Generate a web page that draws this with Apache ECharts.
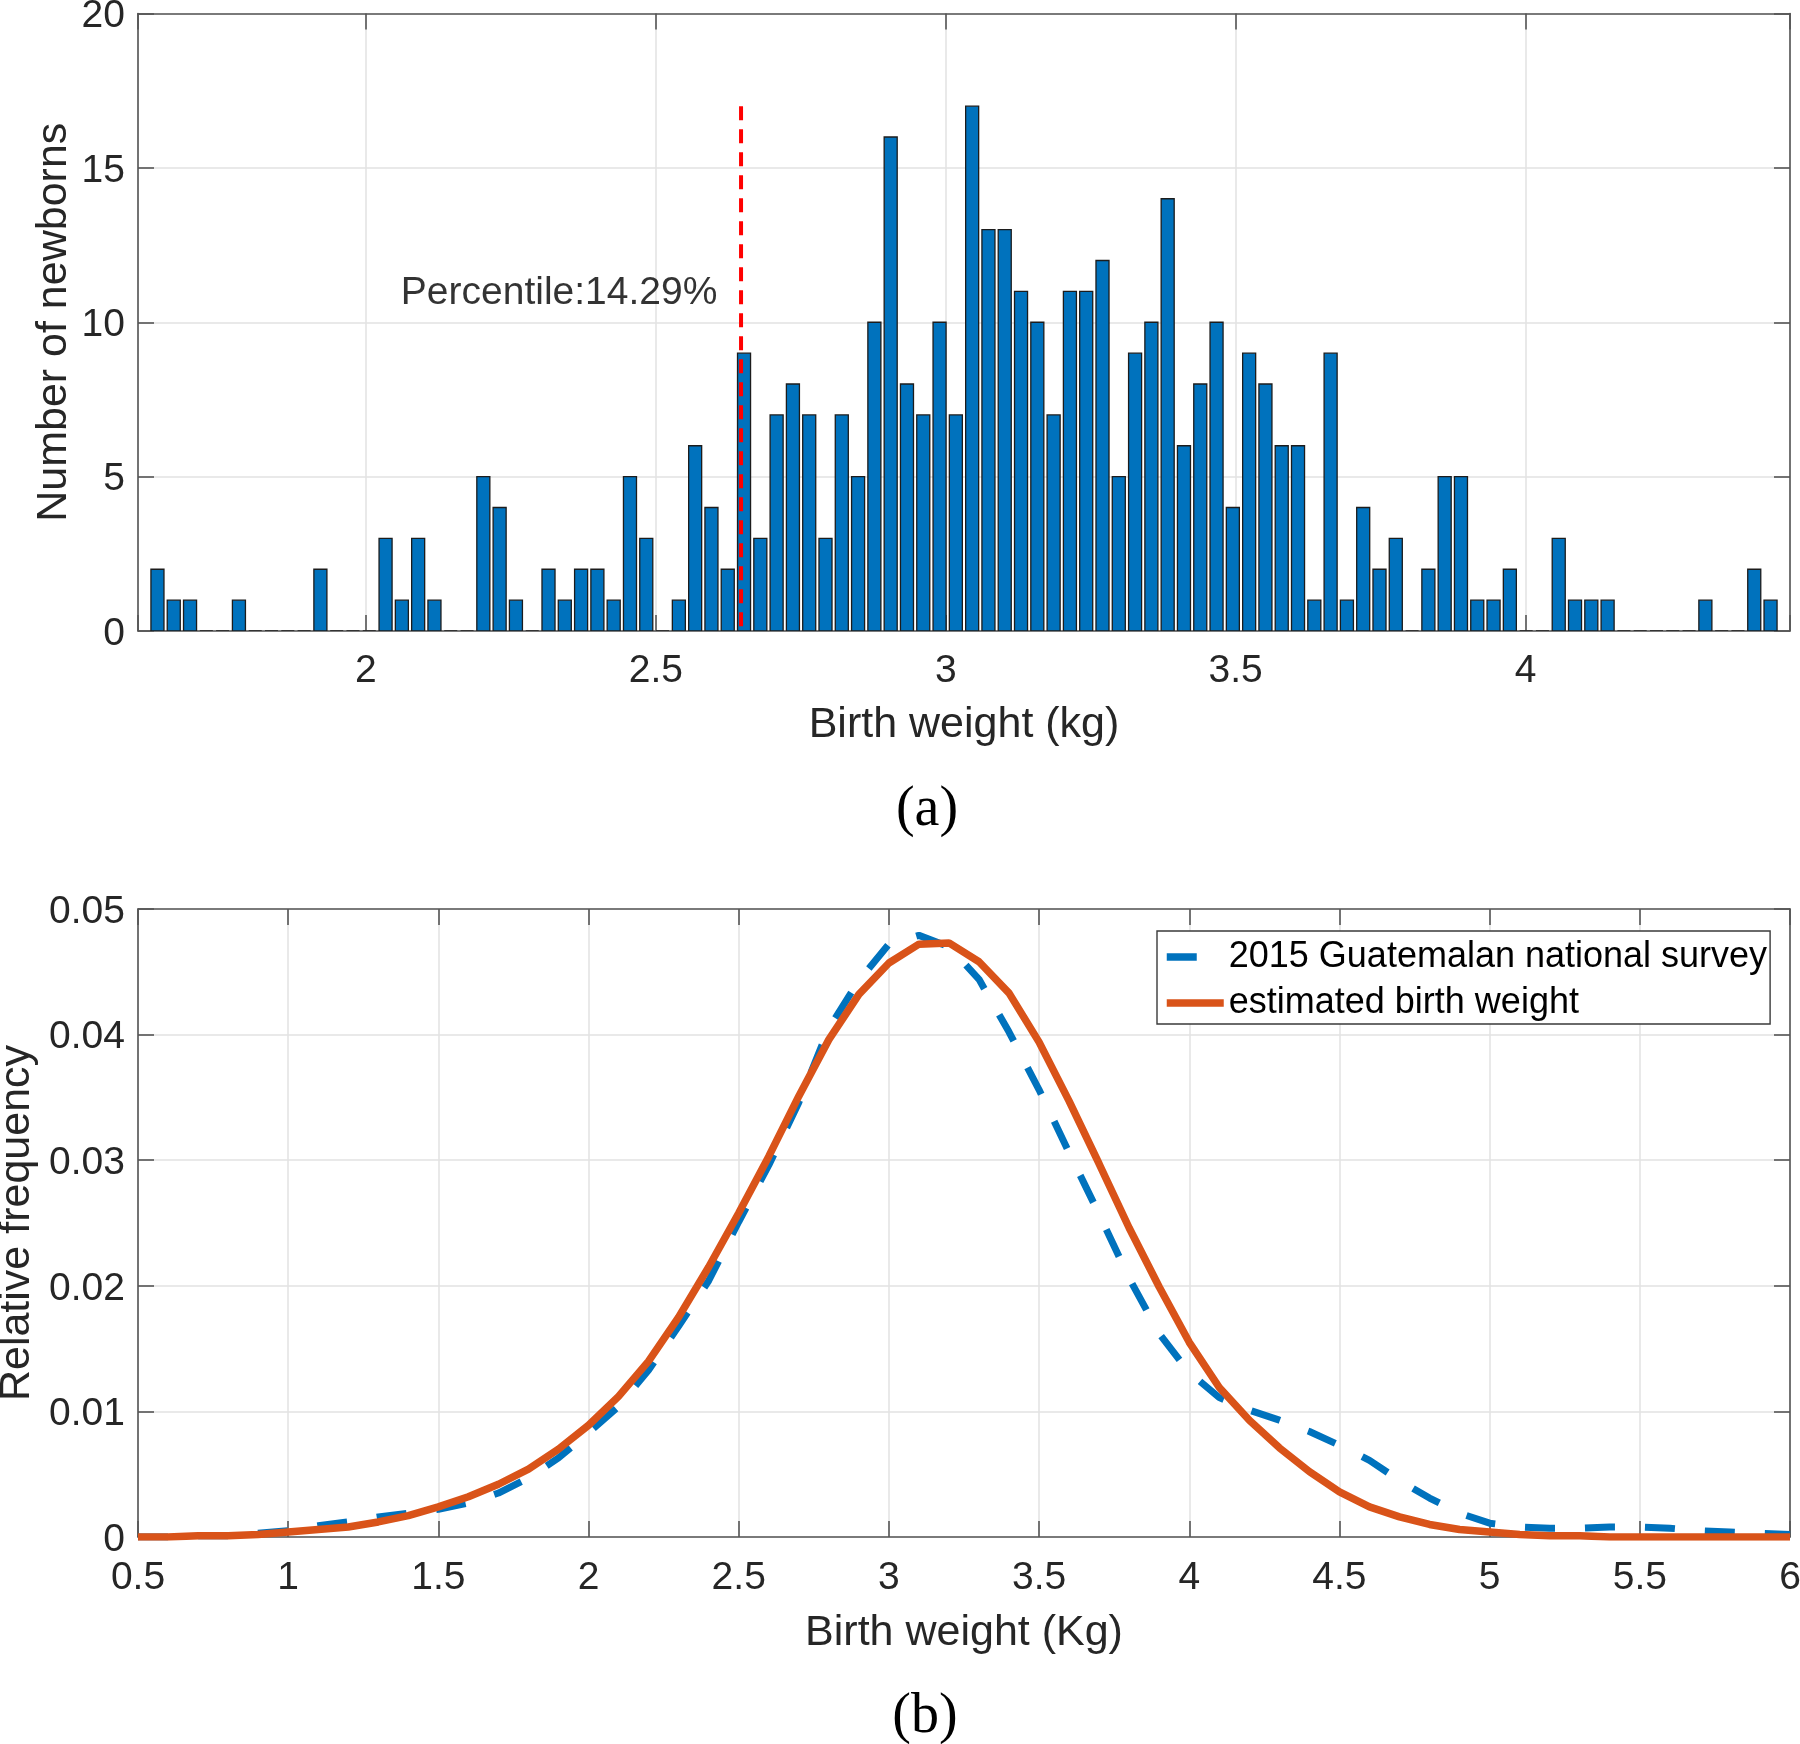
<!DOCTYPE html>
<html>
<head>
<meta charset="utf-8">
<script src="https://cdn.jsdelivr.net/npm/echarts@6/dist/echarts.min.js"></script>
<style>
html, body { margin: 0; padding: 0; background: #ffffff; }
#chart { width: 1800px; height: 1744px; }
</style>
</head>
<body>
<div id="chart"></div>
<script>
// ---------------- (a) histogram of birth weights ----------------
const binStart = 1.6265;      // left edge of first bin (kg)
const binWidth = 0.0281;      // bin width (kg)
const newbornCounts = [
  2, 1, 1, 0, 0, 1, 0, 0, 0, 0,
  2, 0, 0, 0, 3, 1, 3, 1, 0, 0,
  5, 4, 1, 0, 2, 1, 2, 2, 1, 5,
  3, 0, 1, 6, 4, 2, 9, 3, 7, 8,
  7, 3, 7, 5, 10, 16, 8, 7, 10, 7,
  17, 13, 13, 11, 10, 7, 11, 11, 12, 5,
  9, 10, 14, 6, 8, 10, 4, 9, 8, 6,
  6, 1, 9, 1, 4, 2, 3, 0, 2, 5,
  5, 1, 1, 2, 0, 0, 3, 1, 1, 1,
  0, 0, 0, 0, 0, 1, 0, 0, 2, 1
];
const histXRange = [1.607, 4.456];
const histYRange = [0, 20];
const percentileX = 2.647;
const percentileTop = 17;
const percentileText = 'Percentile:14.29%';
const percentileTextAt = [2.607, 10.95];

// ---------------- (b) relative frequency curves ----------------
const weightKg = [
  0.5, 0.6, 0.7, 0.8, 0.9, 1.0, 1.1, 1.2, 1.3, 1.4,
  1.5, 1.6, 1.7, 1.8, 1.9, 2.0, 2.1, 2.2, 2.3, 2.4,
  2.5, 2.6, 2.7, 2.8, 2.9, 3.0, 3.1, 3.2, 3.3, 3.4,
  3.5, 3.6, 3.7, 3.8, 3.9, 4.0, 4.1, 4.2, 4.3, 4.4,
  4.5, 4.6, 4.7, 4.8, 4.9, 5.0, 5.1, 5.2, 5.3, 5.4,
  5.5, 5.6, 5.7, 5.8, 5.9, 6.0
];
const surveyFreq = [
  0.0000, 0.0000, 0.0001, 0.0001, 0.0003, 0.0005, 0.0009, 0.0012, 0.0016, 0.0019,
  0.0022, 0.0027, 0.0035, 0.0047, 0.0063, 0.0083, 0.0104, 0.0133, 0.0168, 0.0204,
  0.0251, 0.0296, 0.0346, 0.0405, 0.0443, 0.0472, 0.0479, 0.0470, 0.0444, 0.0402,
  0.0356, 0.0306, 0.0257, 0.0206, 0.0162, 0.0131, 0.0111, 0.0101, 0.0093, 0.0084,
  0.0073, 0.0061, 0.0045, 0.0031, 0.0019, 0.0011, 0.0008, 0.0007, 0.0007, 0.0008,
  0.0008, 0.0007, 0.0005, 0.0004, 0.0003, 0.0002
];
const estimatedFreq = [
  0.0000, 0.0000, 0.0001, 0.0001, 0.0002, 0.0004, 0.0006, 0.0008, 0.0012, 0.0017,
  0.0024, 0.0032, 0.0042, 0.0054, 0.0070, 0.0089, 0.0112, 0.0140, 0.0175, 0.0215,
  0.0258, 0.0303, 0.0351, 0.0396, 0.0432, 0.0457, 0.0472, 0.0473, 0.0458, 0.0433,
  0.0394, 0.0347, 0.0297, 0.0246, 0.0199, 0.0155, 0.0119, 0.0093, 0.0071, 0.0052,
  0.0036, 0.0024, 0.0016, 0.0010, 0.0006, 0.0004, 0.0002, 0.0001, 0.0001, 0.0000,
  0.0000, 0.0000, 0.0000, 0.0000, 0.0000, 0.0000
];
const seriesNames = ['2015 Guatemalan national survey', 'estimated birth weight'];
const curveXRange = [0.5, 6];
const curveYRange = [0, 0.05];

// ---------------- styling ----------------
const FONT = '"Liberation Sans", Arial, Helvetica, sans-serif';
const SERIF = '"Liberation Serif", "Times New Roman", serif';
const TEXT = '#262626';
const AXIS = '#555555';
const GRID = '#e2e2e2';
const BLUE = '#0072BD';
const ORANGE = '#D95319';

const tickLabel = { fontSize: 39, color: TEXT, fontFamily: FONT };
const yTickLabel = { fontSize: 39, color: TEXT, fontFamily: FONT, verticalAlign: 'top', lineHeight: 6 };
const nameStyle = { fontSize: 43, color: TEXT, fontFamily: FONT };
const axisLine = { show: true, onZero: false, lineStyle: { color: AXIS, width: 1.6 } };
const axisTick = { show: true, inside: true, length: 16, lineStyle: { color: AXIS, width: 1.6 } };
const splitLine = { show: true, lineStyle: { color: GRID, width: 1.5 } };

function halfStepFormatter(v) {
  return Math.abs(v * 2 - Math.round(v * 2)) < 1e-6 ? String(+v.toFixed(2)) : '';
}

const chart = echarts.init(document.getElementById('chart'), null, { renderer: 'canvas' });

const histData = newbornCounts.map((c, i) => [binStart + (i + 0.5) * binWidth, c]);
const barFraction = 0.8;

const option = {
  animation: false,
  backgroundColor: '#ffffff',
  grid: [
    { left: 138, right: 10, top: 13.5, height: 617.5, outerBoundsMode: 'none', containLabel: false },
    { left: 138, right: 10, top: 909, height: 628, outerBoundsMode: 'none', containLabel: false }
  ],
  xAxis: [
    {
      gridIndex: 0, type: 'value', position: 'bottom',
      min: histXRange[0], max: histXRange[1], splitNumber: 5,
      axisLine, axisTick,
      axisLabel: Object.assign({ margin: 21, formatter: halfStepFormatter }, tickLabel),
      splitLine,
      name: 'Birth weight (kg)', nameLocation: 'middle', nameGap: 73,
      nameTextStyle: nameStyle, nameMoveOverlap: false
    },
    {
      gridIndex: 0, type: 'value', position: 'top',
      min: histXRange[0], max: histXRange[1], splitNumber: 5,
      axisLine, axisTick, axisLabel: { show: false }, splitLine: { show: false }
    },
    {
      gridIndex: 1, type: 'value', position: 'bottom',
      min: curveXRange[0], max: curveXRange[1], interval: 0.5,
      axisLine, axisTick,
      axisLabel: Object.assign({ margin: 22 }, tickLabel),
      splitLine,
      name: 'Birth weight (Kg)', nameLocation: 'middle', nameGap: 75,
      nameTextStyle: nameStyle, nameMoveOverlap: false
    },
    {
      gridIndex: 1, type: 'value', position: 'top',
      min: curveXRange[0], max: curveXRange[1], interval: 0.5,
      axisLine, axisTick, axisLabel: { show: false }, splitLine: { show: false }
    }
  ],
  yAxis: [
    {
      gridIndex: 0, type: 'value', position: 'left',
      min: histYRange[0], max: histYRange[1], interval: 5,
      axisLine, axisTick,
      axisLabel: Object.assign({ margin: 13 }, yTickLabel),
      splitLine,
      name: 'Number of newborns', nameLocation: 'middle', nameGap: 62,
      nameTextStyle: nameStyle, nameMoveOverlap: false
    },
    {
      gridIndex: 0, type: 'value', position: 'right',
      min: histYRange[0], max: histYRange[1], interval: 5,
      axisLine, axisTick, axisLabel: { show: false }, splitLine: { show: false }
    },
    {
      gridIndex: 1, type: 'value', position: 'left',
      min: curveYRange[0], max: curveYRange[1], interval: 0.01,
      axisLine, axisTick,
      axisLabel: Object.assign({ margin: 13 }, yTickLabel),
      splitLine,
      name: 'Relative frequency', nameLocation: 'middle', nameGap: 99,
      nameTextStyle: nameStyle, nameMoveOverlap: false
    },
    {
      gridIndex: 1, type: 'value', position: 'right',
      min: curveYRange[0], max: curveYRange[1], interval: 0.01,
      axisLine, axisTick, axisLabel: { show: false }, splitLine: { show: false }
    }
  ],
  legend: {
    show: true,
    orient: 'vertical',
    left: 1157, top: 931,
    padding: [8, 3, 3, 6],
    itemGap: 10,
    itemWidth: 57, itemHeight: 14,
    backgroundColor: '#ffffff',
    borderColor: '#3a3a3a', borderWidth: 1.4, borderRadius: 0,
    textStyle: { fontSize: 36, color: '#000000', fontFamily: FONT },
    selectedMode: false,
    lineStyle: { width: 7.5 },
    itemStyle: { opacity: 0 },
    data: [
      { name: seriesNames[0], lineStyle: { width: 7.5, type: [30, 30], color: BLUE }, itemStyle: { opacity: 0 } },
      { name: seriesNames[1], lineStyle: { width: 7.5, type: 'solid', color: ORANGE }, itemStyle: { opacity: 0 } }
    ]
  },
  graphic: [
    { type: 'text', x: 927, y: 810, style: { text: '(a)', font: '56px ' + SERIF, fill: '#000000', align: 'center', verticalAlign: 'middle' } },
    { type: 'text', x: 925, y: 1717, style: { text: '(b)', font: '56px ' + SERIF, fill: '#000000', align: 'center', verticalAlign: 'middle' } }
  ],
  series: [
    {
      type: 'custom',
      name: 'histogram',
      xAxisIndex: 0, yAxisIndex: 0,
      data: histData,
      clip: true,
      z: 2,
      renderItem: function (params, api) {
        const c = api.value(0);
        const v = api.value(1);
        const half = binWidth * barFraction / 2;
        const tl = api.coord([c - half, v]);
        const br = api.coord([c + half, 0]);
        return {
          type: 'rect',
          shape: { x: tl[0], y: tl[1], width: br[0] - tl[0], height: br[1] - tl[1] },
          style: { fill: BLUE, stroke: '#1c1c1c', lineWidth: 1.3 }
        };
      }
    },
    {
      type: 'line',
      name: 'percentile',
      xAxisIndex: 0, yAxisIndex: 0,
      data: [[percentileX, percentileTop], [percentileX, 0]],
      symbol: 'none', showSymbol: false,
      lineStyle: { color: '#FF0000', width: 4, type: [14, 9] },
      z: 5, silent: true
    },
    {
      type: 'scatter',
      name: 'percentileLabel',
      xAxisIndex: 0, yAxisIndex: 0,
      data: [percentileTextAt],
      symbolSize: 1,
      itemStyle: { color: 'rgba(0,0,0,0)' },
      label: {
        show: true, position: 'left', distance: 0,
        formatter: percentileText,
        fontSize: 39, color: '#000000', fontFamily: FONT
      },
      z: 6, silent: true
    },
    {
      type: 'line',
      name: seriesNames[0],
      xAxisIndex: 2, yAxisIndex: 2,
      data: weightKg.map((x, i) => [x, surveyFreq[i]]),
      symbol: 'none', showSymbol: false, smooth: false,
      lineStyle: { color: BLUE, width: 7, type: [30, 30], cap: 'butt' },
      itemStyle: { color: BLUE },
      z: 3
    },
    {
      type: 'line',
      name: seriesNames[1],
      xAxisIndex: 2, yAxisIndex: 2,
      data: weightKg.map((x, i) => [x, estimatedFreq[i]]),
      symbol: 'none', showSymbol: false, smooth: false,
      lineStyle: { color: ORANGE, width: 7.5, type: 'solid' },
      itemStyle: { color: ORANGE },
      z: 4
    }
  ]
};

chart.setOption(option);
</script>
</body>
</html>
